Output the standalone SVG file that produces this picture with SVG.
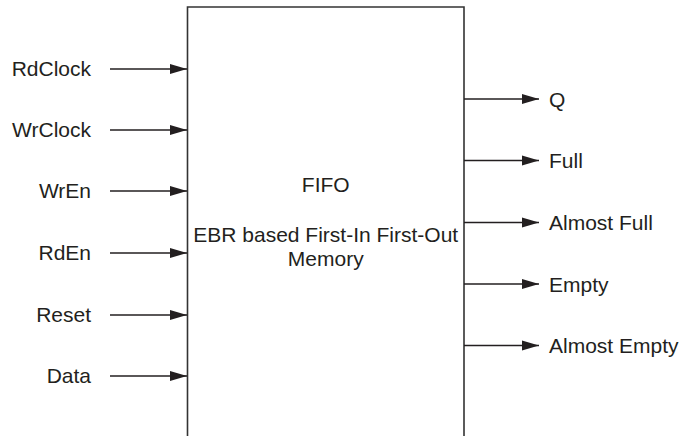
<svg xmlns="http://www.w3.org/2000/svg" width="680" height="436" viewBox="0 0 680 436">
<style>
text{font-family:"Liberation Sans",Arial,sans-serif;font-size:21px;fill:#231f20}
.in{text-anchor:end}
.mid{text-anchor:middle}
.w{stroke:#231f20;stroke-width:1.3;fill:none}
.box{stroke:#333;stroke-width:1.6;fill:#fff}
</style>
<defs>
<marker id="ah" markerWidth="17" markerHeight="11" refX="17" refY="5.5" orient="auto" markerUnits="userSpaceOnUse">
<path d="M0,0.5 L17,5.5 L0,10.5 Z" fill="#231f20"/>
</marker>
</defs>
<g id="fifo">
<path class="box" d="M187.5,440 L187.5,7 L464,7 L464,440"/>
<text class="mid" x="325.75" y="192">FIFO</text>
<text class="mid" x="325.75" y="242">EBR based First-In First-Out</text>
<text class="mid" x="325.75" y="265.5">Memory</text>
</g>
<g id="connectors">
<line class="w" x1="110" y1="69" x2="187" y2="69" marker-end="url(#ah)"/>
<line class="w" x1="110" y1="130" x2="187" y2="130" marker-end="url(#ah)"/>
<line class="w" x1="110" y1="191" x2="187" y2="191" marker-end="url(#ah)"/>
<line class="w" x1="110" y1="253" x2="187" y2="253" marker-end="url(#ah)"/>
<line class="w" x1="110" y1="315" x2="187" y2="315" marker-end="url(#ah)"/>
<line class="w" x1="110" y1="376" x2="187" y2="376" marker-end="url(#ah)"/>
<line class="w" x1="464" y1="99" x2="539" y2="99" marker-end="url(#ah)"/>
<line class="w" x1="464" y1="160.5" x2="539" y2="160.5" marker-end="url(#ah)"/>
<line class="w" x1="464" y1="222.5" x2="539" y2="222.5" marker-end="url(#ah)"/>
<line class="w" x1="464" y1="284" x2="539" y2="284" marker-end="url(#ah)"/>
<line class="w" x1="464" y1="345.5" x2="539" y2="345.5" marker-end="url(#ah)"/>
</g>
<g id="in-rdclock"><text class="in" x="91" y="76">RdClock</text></g>
<g id="in-wrclock"><text class="in" x="91" y="137">WrClock</text></g>
<g id="in-wren"><text class="in" x="91" y="198">WrEn</text></g>
<g id="in-rden"><text class="in" x="91" y="260">RdEn</text></g>
<g id="in-reset"><text class="in" x="91" y="322">Reset</text></g>
<g id="in-data"><text class="in" x="91" y="383">Data</text></g>
<g id="out-q"><text x="549" y="106.5">Q</text></g>
<g id="out-full"><text x="549" y="168">Full</text></g>
<g id="out-afull"><text x="549" y="230">Almost Full</text></g>
<g id="out-empty"><text x="549" y="291.5">Empty</text></g>
<g id="out-aempty"><text x="549" y="353">Almost Empty</text></g>
</svg>
